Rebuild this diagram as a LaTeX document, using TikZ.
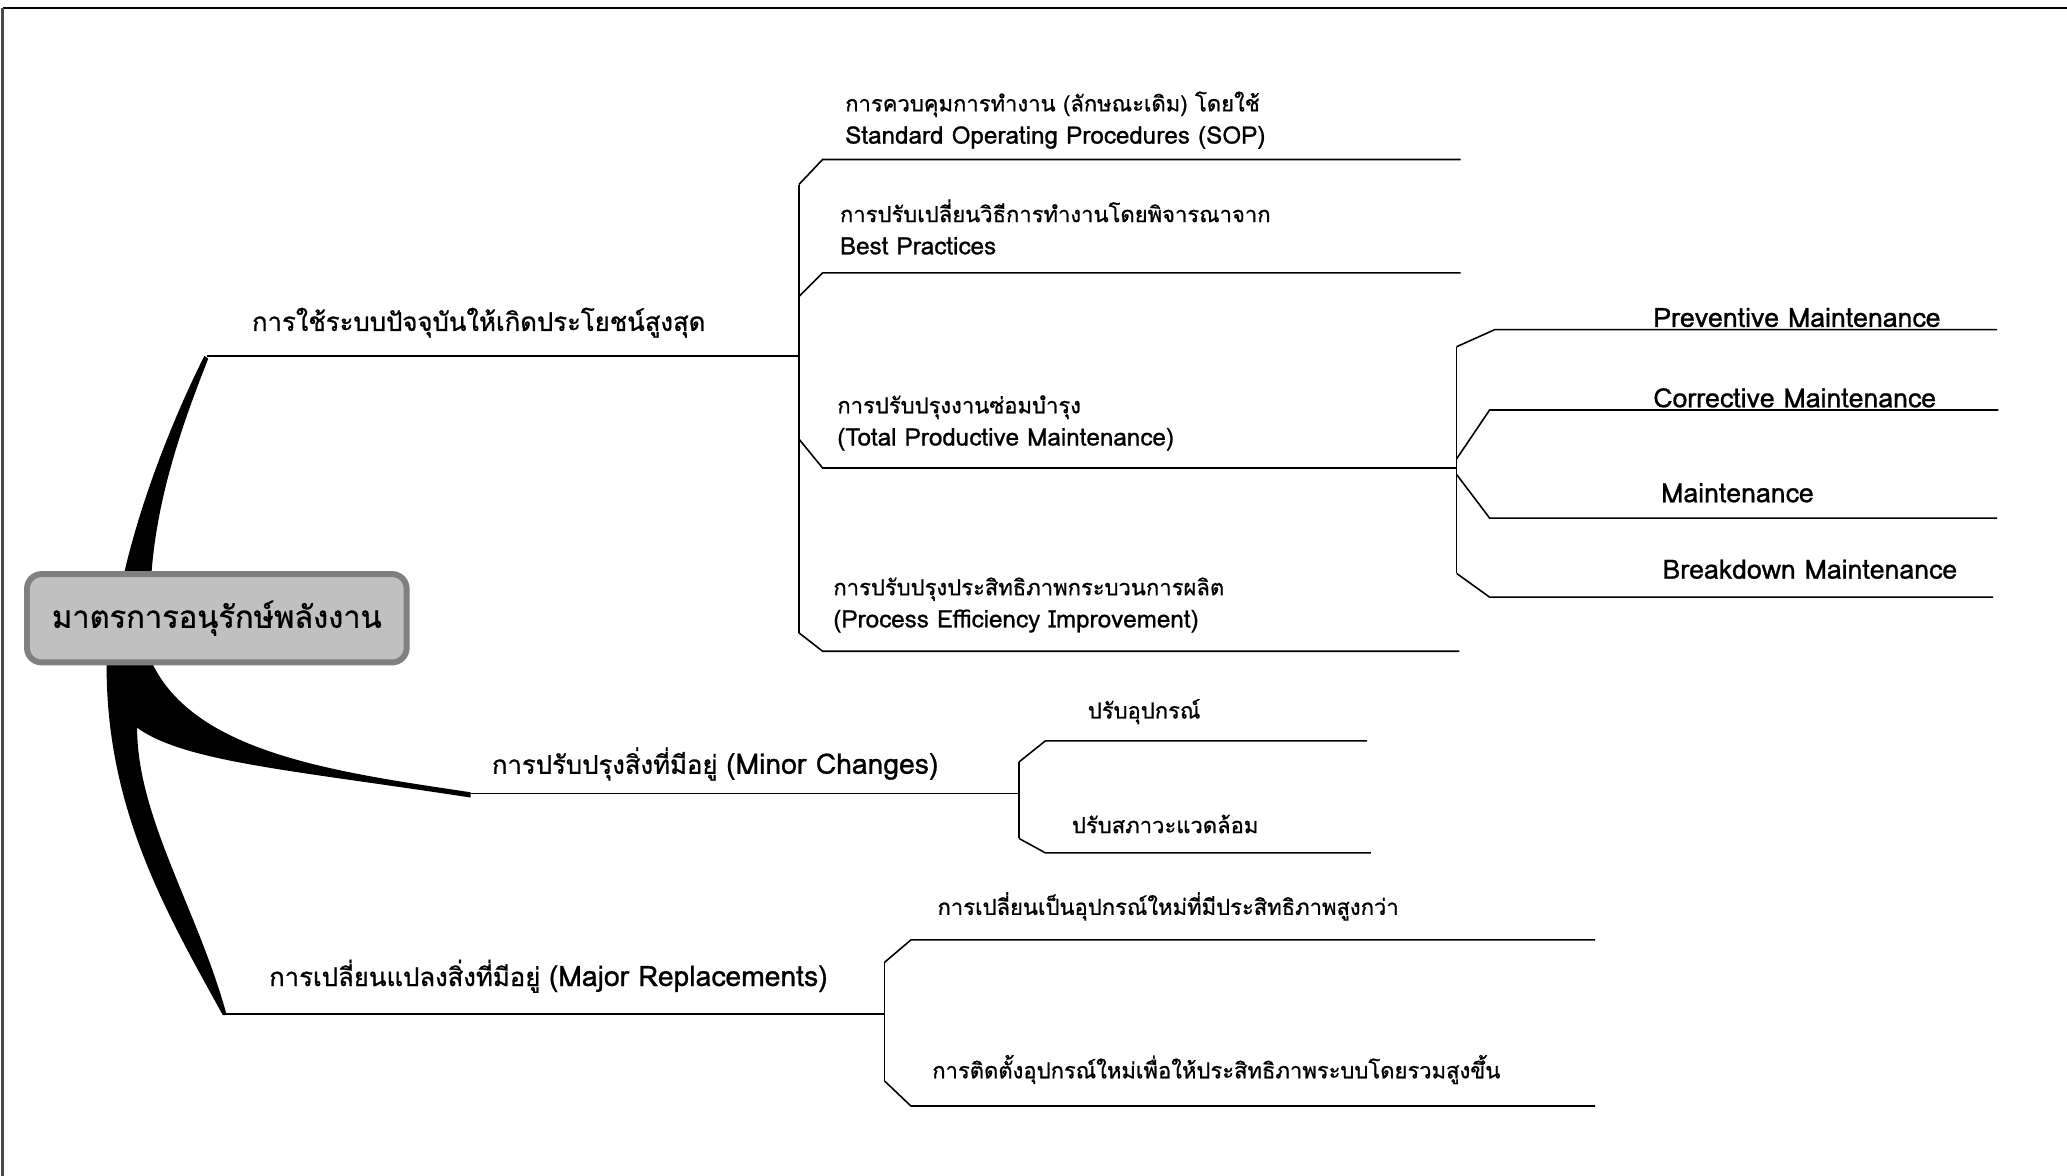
\documentclass[tikz,border=0pt]{standalone}
\usepackage{fontspec}
\newfontfamily\thaifont[Script=Thai,FakeBold=0.9]{Loma}
\newfontfamily\latinfont[Scale=1.1,FakeBold=0.9]{Loma}
\definecolor{boxfill}{HTML}{C0C0C0}
\definecolor{boxedge}{HTML}{808080}
\definecolor{frameedge}{HTML}{4A4A4A}
\begin{document}
\begin{tikzpicture}[x=1pt,y=-1pt,
  leaf/.style={anchor=base west, inner sep=0pt, align=left,
    font=\thaifont\fontsize{16.7}{24.5}\selectfont},
  mleaf/.style={anchor=base west, inner sep=0pt,
    font=\thaifont\fontsize{20.2}{24}\selectfont},
  branchlabel/.style={anchor=base west, inner sep=0pt,
    font=\thaifont\fontsize{19.5}{26}\selectfont},
  rootbox/.style={draw=boxedge, fill=boxfill, line width=4.5pt, rounded corners=11pt,
    minimum width=288pt, minimum height=67pt, inner sep=0pt,
    font=\thaifont\fontsize{23.4}{28}\selectfont},
  rule/.style={line width=1.3pt, black},
  twig/.style={line width=1.2pt, black}]
\useasboundingbox (0,0) rectangle (1568,892);

% page frame (top and left edges)
\draw[line width=1.3pt, black] (2,6) -- (1568,6);
\draw[line width=1.8pt, frameedge] (2,6) -- (2,892);

% tapered main branches, drawn behind the root box
\fill[black] (90,455) .. controls (100,400) and (125,330) .. (155,270)
  -- (158,272) .. controls (135,330) and (115,390) .. (114,455) -- cycle;
\fill[black] (81,495) .. controls (78,610) and (125,690) .. (169,770)
  -- (172,770) .. controls (150,690) and (104,620) .. (104,552)
  .. controls (140,578) and (220,584) .. (357,605)
  -- (357,601) .. controls (250,585) and (140,570) .. (112,495) -- cycle;

% root
\node[rootbox] (root) at (164.5,469) {มาตรการอนุรักษ์พลังงาน};

% ---- branch 1 ----
\coordinate (b1tip) at (157,270);
\coordinate (b1j) at (606,270);
\draw[rule] (b1tip) -- (b1j);
\node[branchlabel] (b1) at (191,251) {การใช้ระบบปัจจุบันให้เกิดประโยชน์สูงสุด};

\coordinate (b1top) at (606,140);
\coordinate (b1bot) at (606,480);
\draw[twig] (b1top) -- (b1bot);

\coordinate (s1a) at (624,121);  \coordinate (s1b) at (1108,121);
\coordinate (s2s) at (606,225);  \coordinate (s2a) at (624,207);  \coordinate (s2b) at (1108,207);
\coordinate (s3s) at (606,333);  \coordinate (s3a) at (624,355);  \coordinate (s3b) at (1105,355);
\coordinate (s4a) at (624,494);  \coordinate (s4b) at (1107,494);
\draw[twig] (b1top) -- (s1a) -- (s1b);
\draw[twig] (s2s) -- (s2a) -- (s2b);
\draw[twig] (s3s) -- (s3a) -- (s3b);
\draw[twig] (b1bot) -- (s4a) -- (s4b);

% two-line labels: the base anchor sits on the second line
\node[leaf] (sop) at (641,109) {การควบคุมการทำงาน (ลักษณะเดิม) โดยใช้\\{\latinfont Standard Operating Procedures (SOP)}};
\node[leaf] (best) at (637,193) {การปรับเปลี่ยนวิธีการทำงานโดยพิจารณาจาก\\{\latinfont Best Practices}};
\node[leaf] (tpm) at (635,338) {การปรับปรุงงานซ่อมบำรุง\\{\latinfont (Total Productive Maintenance)}};
\node[leaf] (pei) at (632,476) {การปรับปรุงประสิทธิภาพกระบวนการผลิต\\{\latinfont (Process Efficiency Improvement)}};

% maintenance sub-branches
\coordinate (m0) at (1105,263);
\coordinate (m3) at (1105,435);
\draw[twig] (m0) -- (m3);
\coordinate (m1s) at (1105,348);
\coordinate (m2s) at (1105,360);
\coordinate (pm1) at (1134,250); \coordinate (pm2) at (1515,250);
\coordinate (cm1) at (1130,311); \coordinate (cm2) at (1516,311);
\coordinate (mm1) at (1130,393); \coordinate (mm2) at (1515,393);
\coordinate (bm1) at (1130,453); \coordinate (bm2) at (1512,453);
\draw[twig] (m0) -- (pm1) -- (pm2);
\draw[twig] (m1s) -- (cm1) -- (cm2);
\draw[twig] (m2s) -- (mm1) -- (mm2);
\draw[twig] (m3) -- (bm1) -- (bm2);

\node[mleaf] (pm) at (1254,248) {Preventive Maintenance};
\node[mleaf] (cm) at (1254,309) {Corrective Maintenance};
\node[mleaf] (mm) at (1260,381) {Maintenance};
\node[mleaf] (bm) at (1261,439) {Breakdown Maintenance};

% ---- branch 2 ----
\coordinate (b2tip) at (357,602);
\coordinate (b2j) at (773,602);
\draw[rule] (b2tip) -- (b2j);
\node[branchlabel] (b2) at (373,587) {การปรับปรุงสิ่งที่มีอยู่ {\latinfont (Minor Changes)}};

\coordinate (b2top) at (773,578);
\coordinate (b2bot) at (773,636);
\draw[twig] (b2top) -- (b2bot);
\coordinate (e1a) at (793,562); \coordinate (e1b) at (1037,562);
\coordinate (e2a) at (793,647); \coordinate (e2b) at (1040,647);
\draw[twig] (b2top) -- (e1a) -- (e1b);
\draw[twig] (b2bot) -- (e2a) -- (e2b);
\node[leaf] (eq) at (825,545) {ปรับอุปกรณ์};
\node[leaf] (env) at (813,632) {ปรับสภาวะแวดล้อม};

% ---- branch 3 ----
\coordinate (b3tip) at (170,769);
\coordinate (b3j) at (671,769);
\draw[rule] (b3tip) -- (b3j);
\node[branchlabel] (b3) at (204,748) {การเปลี่ยนแปลงสิ่งที่มีอยู่ {\latinfont (Major Replacements)}};

\coordinate (b3top) at (671,730);
\coordinate (b3bot) at (671,820);
\draw[twig] (b3top) -- (b3bot);
\coordinate (r1a) at (691,713); \coordinate (r1b) at (1210,713);
\coordinate (r2a) at (691,839); \coordinate (r2b) at (1210,839);
\draw[twig] (b3top) -- (r1a) -- (r1b);
\draw[twig] (b3bot) -- (r2a) -- (r2b);
\node[leaf] (rep) at (711,694) {การเปลี่ยนเป็นอุปกรณ์ใหม่ที่มีประสิทธิภาพสูงกว่า};
\node[leaf] (inst) at (707,818) {การติดตั้งอุปกรณ์ใหม่เพื่อให้ประสิทธิภาพระบบโดยรวมสูงขึ้น};
\end{tikzpicture}
\end{document}
